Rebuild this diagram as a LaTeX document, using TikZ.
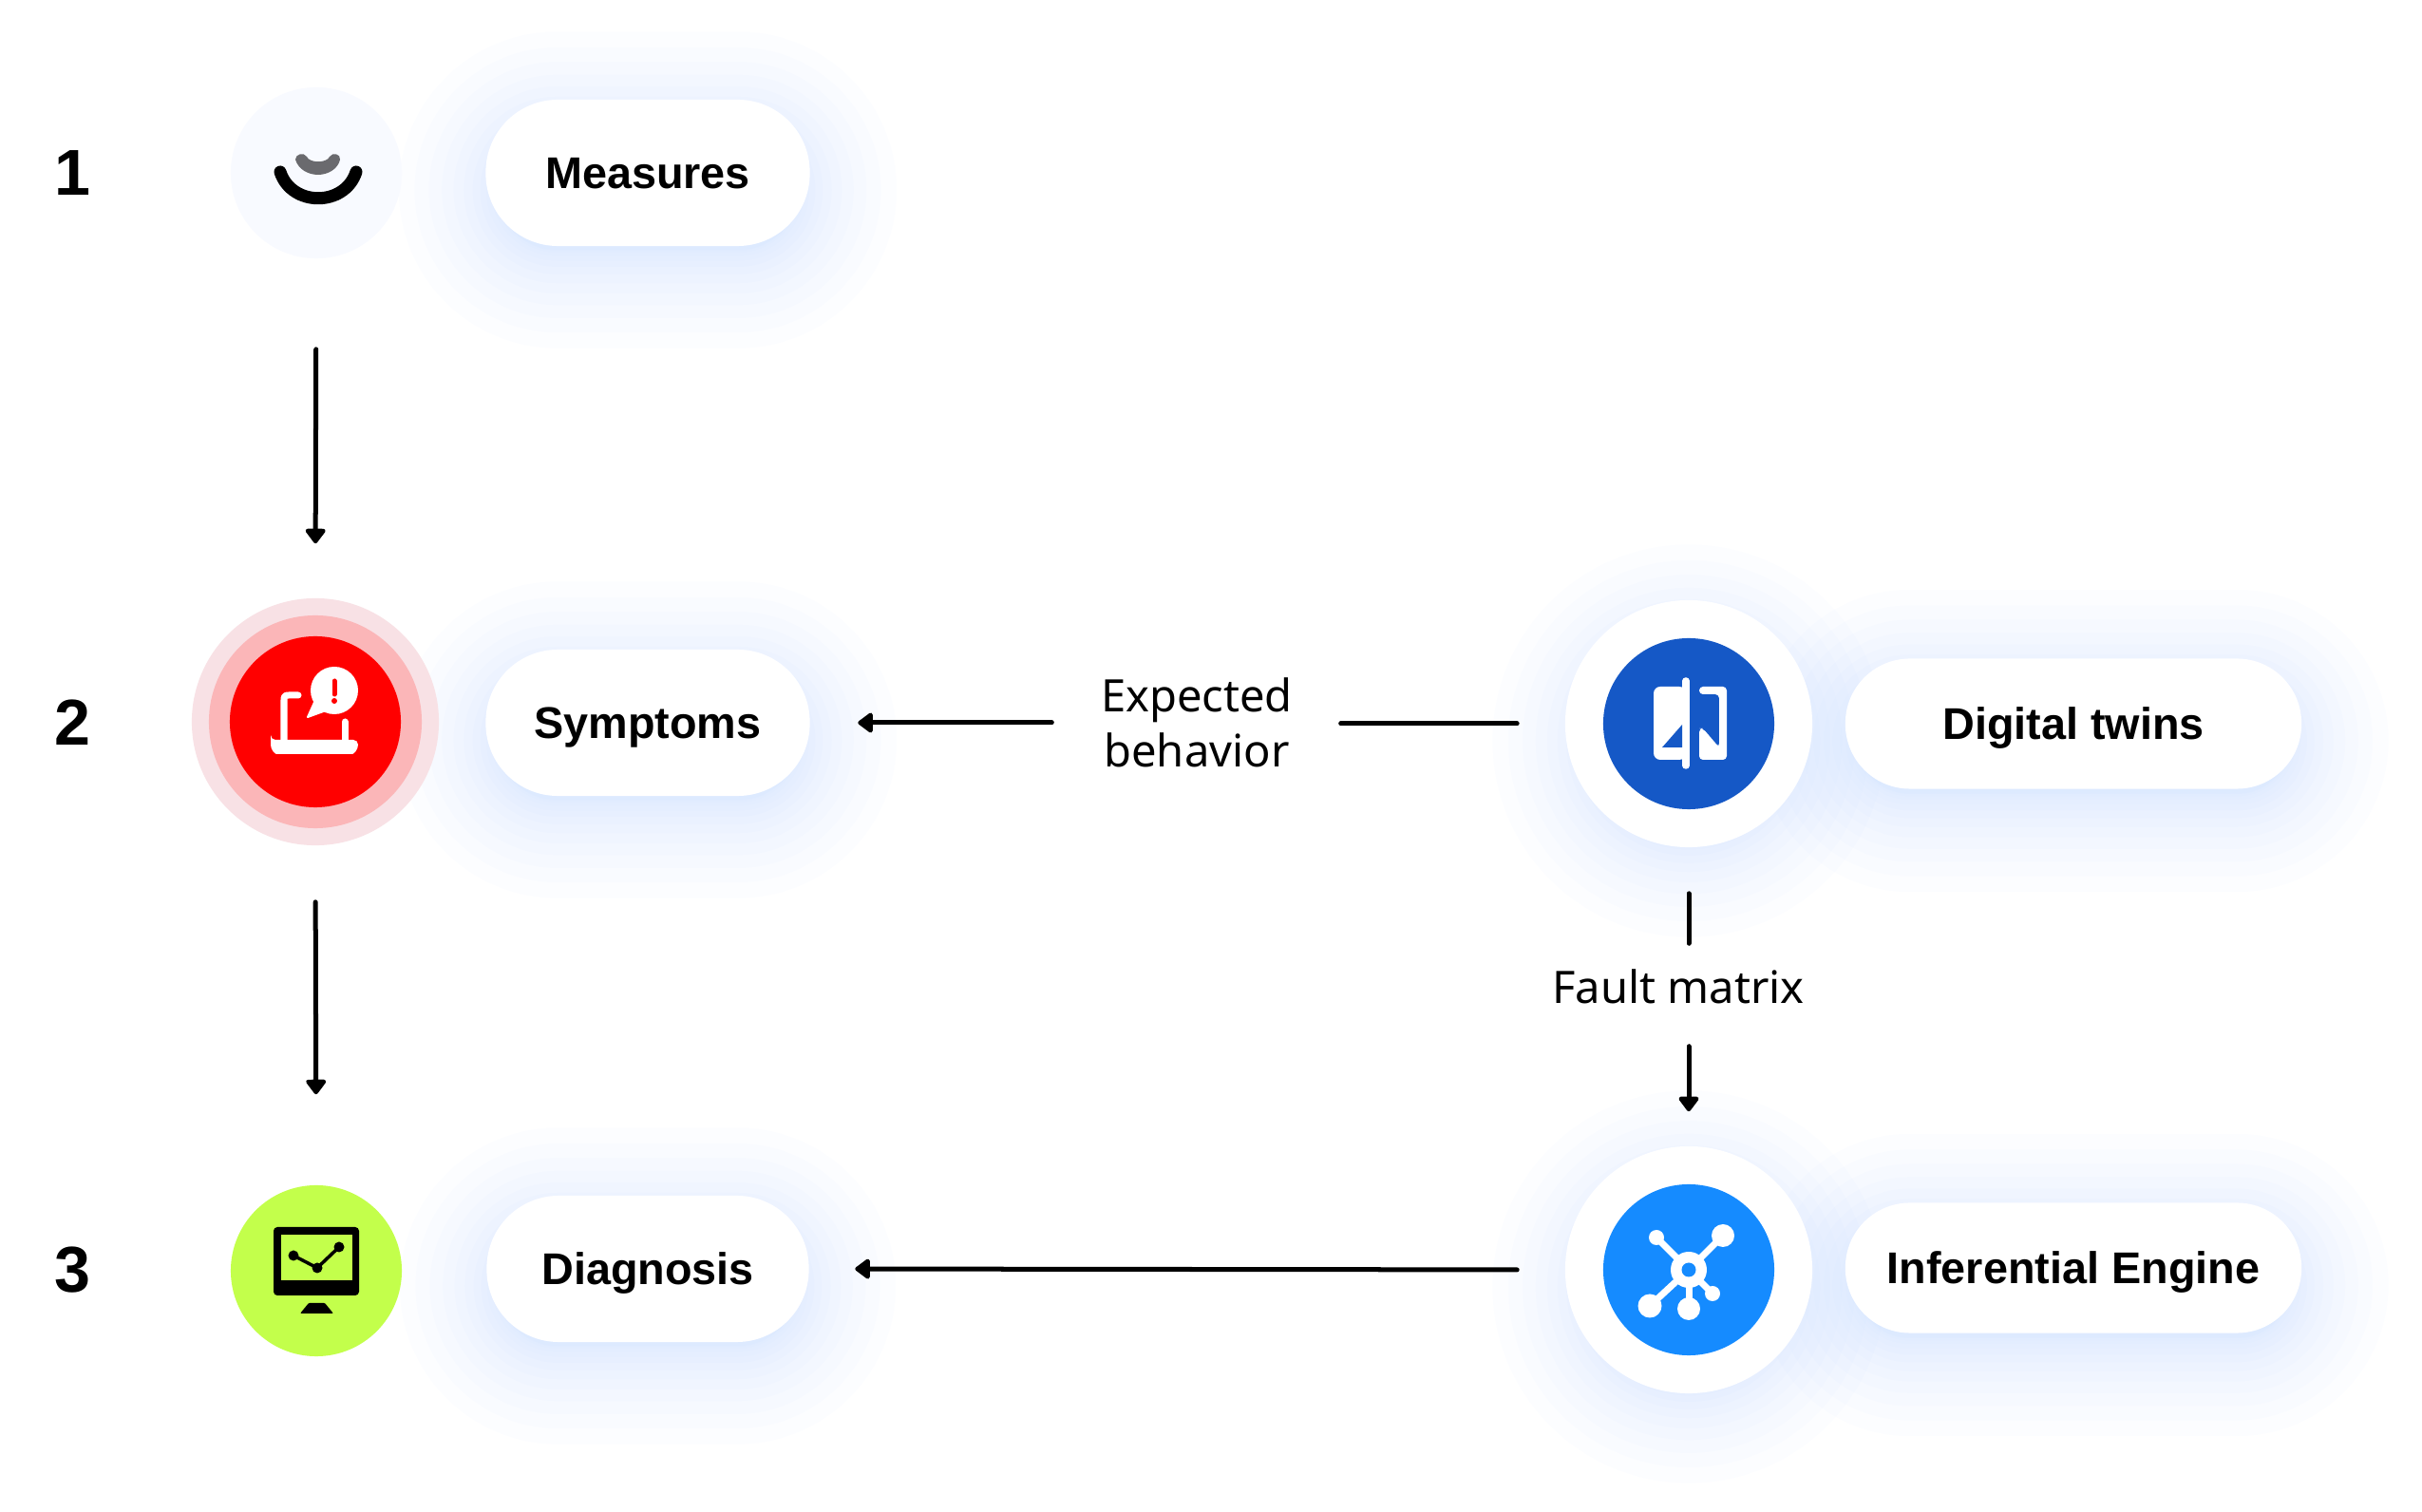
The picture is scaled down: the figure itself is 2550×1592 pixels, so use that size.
\documentclass[tikz,border=0pt]{standalone}
\usepackage{fontspec}
\setmainfont{Liberation Sans}
\newfontfamily\notefont{Noto Sans}
\usetikzlibrary{arrows.meta}
\definecolor{glowtint}{HTML}{3F9BFF}
\definecolor{ink}{HTML}{000000}
\definecolor{paleface}{HTML}{F8FAFF}
\definecolor{alarmouter}{HTML}{F8E1E5}
\definecolor{alarmmid}{HTML}{FBB6B8}
\definecolor{alarmred}{HTML}{FF0000}
\definecolor{twinblue}{HTML}{1558C6}
\definecolor{engineblue}{HTML}{158BFF}
\definecolor{limegreen}{HTML}{C3FF4B}
\definecolor{smilegrey}{HTML}{6A6A6E}
% Soft halo below pills and discs: centre x, centre y, width, height.
% The spread grows quadratically so the edge fades out gently.
\newcommand{\softglow}[4]{%
  \foreach \k in {12,11,...,0}{%
    \pgfmathsetmacro{\e}{\k*\k*0.72-12}%
    \pgfmathsetmacro{\gr}{max(#4/2+\e,2)*0.2845}%
    \fill[glowtint,opacity=0.0105,rounded corners=\gr pt]
      ({#1-#3/2-\e},{#2-#4/2-\e}) rectangle ({#1+#3/2+\e},{#2+#4/2+\e});
  }%
}
\tikzset{
  pill/.style={fill=white,inner sep=0pt,minimum width=#1,minimum height=1.54cm,rounded corners=0.76cm,
    font=\fontsize{13.3pt}{15pt}\selectfont\bfseries,text=ink,text height=0.33cm,text depth=0pt},
  pilllow/.style={pill=#1,minimum height=1.37cm,rounded corners=0.68cm},
  disc/.style={circle,inner sep=0pt,minimum size=1.8cm},
  halo/.style={circle,fill=white,inner sep=0pt,minimum size=2.6cm},
  stepnum/.style={font=\fontsize{19.4pt}{22pt}\selectfont\bfseries,text=ink,inner sep=0pt},
  edgelabel/.style={font=\fontsize{13.4pt}{16.5pt}\notefont\selectfont,text=ink,inner sep=0pt,align=center},
  flow/.style={line width=0.05cm,line cap=round,draw=ink,-{Triangle[length=0.17cm,width=0.24cm,round]}},
  plainflow/.style={line width=0.05cm,line cap=round,draw=ink},
  iconstroke/.style={line cap=round,line join=round}
}
\begin{document}
\begin{tikzpicture}[x=0.01cm,y=-0.01cm]
\useasboundingbox (0,0) rectangle (2550,1592);
\fill[white] (0,0) rectangle (2550,1592);

% Halos
\softglow{682}{200}{341}{150}
\softglow{682}{779}{341}{150}
\softglow{682}{1354}{339}{150}
\softglow{2183}{780}{480}{135}
\softglow{2183}{1353}{480}{135}
\softglow{1778}{780}{230}{230}
\softglow{1778}{1355}{230}{230}

% Step numbers
\node[stepnum] (n1) at (76,182) {1};
\node[stepnum] (n2) at (76,761) {2};
\node[stepnum] (n3) at (76,1337) {3};

% Left column discs
\node[disc,fill=paleface] (measureicon) at (333,182) {};
\node[circle,inner sep=0pt,minimum size=2.6cm,fill=alarmouter] (symptomring) at (332,760) {};
\node[circle,inner sep=0pt,minimum size=2.24cm,fill=alarmmid] (symptommid) at (332,760) {};
\node[disc,fill=alarmred] (symptomicon) at (332,760) {};
\node[disc,fill=limegreen] (diagicon) at (333,1338) {};

% Right column discs
\node[halo] (twinring) at (1778,762) {};
\node[disc,fill=twinblue] (twinicon) at (1778,762) {};
\node[halo] (enginering) at (1778,1337) {};
\node[disc,fill=engineblue] (engineicon) at (1778,1337) {};

% Pills
\node[pill=3.41cm] (measures) at (682,182) {Measures};
\node[pill=3.41cm] (symptoms) at (682,761) {Symptoms};
\node[pill=3.39cm] (diagnosis) at (682,1336) {Diagnosis};
\node[pilllow=4.80cm] (twins) at (2183,762) {Digital twins};
\node[pilllow=4.80cm] (engine) at (2183,1335) {Inferential Engine};

% Edge labels
\node[edgelabel,minimum width=2cm] (expected) at (1260,761) {Expected\\behavior};
\node[edgelabel,minimum height=0.9cm] (fault) at (1767,1039) {Fault matrix};

% Connectors
\draw[flow,shorten <=0.95cm,shorten >=0.57cm] (measureicon.south) -- (symptomring.north);
\draw[flow,shorten <=0.59cm,shorten >=0.95cm] (symptomring.south) -- (diagicon.north);
\draw[plainflow,shorten <=0.50cm,shorten >=0.50cm] (twinring.west) -- (twinring.west -| expected.east);
\draw[flow,shorten <=0.51cm,shorten >=0.50cm] (expected.west |- symptoms.east) -- (symptoms.east);
\draw[plainflow,shorten <=0.48cm] (twinring.south) -- (twinring.south |- fault.north);
\draw[flow,shorten <=0.17cm,shorten >=0.36cm] (twinring.south |- fault.south) -- (enginering.north);
\draw[flow,shorten <=0.50cm,shorten >=0.48cm] (enginering.west) -- (diagnosis.east);

% Smile glyph
\fill[smilegrey] (311,168) .. controls (311,162) and (320,160) .. (323,165)
  .. controls (326,172) and (344,172) .. (347,165)
  .. controls (350,160) and (359,162) .. (358,168)
  .. controls (356,178) and (345,184) .. (335,184)
  .. controls (324,184) and (314,178) .. (311,168) -- cycle;
\draw[ink,line width=0.13cm,line cap=round] (295,181) .. controls (307,218) and (363,218) .. (375,181);

% Laptop with alert bubble
\begin{scope}[white,iconstroke]
  \draw[line width=0.07cm] (299,782) -- (299,737) .. controls (299,733) and (300,732) .. (304,732) -- (314,732);
  \draw[line width=0.07cm] (363,760) -- (363,782);
  \fill[rounded corners=0.05cm] (285,779) -- (377,779) .. controls (377,790) and (372,794) .. (366,794) -- (296,794) .. controls (290,794) and (285,790) .. (285,779) -- cycle;
  \fill (352,727) circle[radius=25];
  \fill[line join=round,draw=white,line width=0.02cm] (333,735) -- (324,755) -- (346,747) -- cycle;
  \draw[alarmred,line width=0.05cm] (352,717) -- (352,731);
  \fill[alarmred] (352,738) circle[radius=3];
\end{scope}

% Mirrored panels
\begin{scope}[white,iconstroke]
  \draw[line width=0.075cm] (1775,717) -- (1775,806);
  \fill[rounded corners=0.07cm] (1775,723) -- (1741,723) -- (1741,800) -- (1775,800) -- cycle;
  \fill[twinblue] (1750,787) -- (1771,763) -- (1771,787) -- cycle;
  \fill[rounded corners=0.04cm] (1789,723) -- (1818,723) -- (1818,800) -- (1789,800) -- (1789,767) -- (1793,767) -- (1810,787) -- (1810,731) -- (1789,731) -- cycle;
\end{scope}

% Network hub
\begin{scope}[white,iconstroke]
  \draw[line width=0.07cm] (1778,1337) -- (1814,1301);
  \draw[line width=0.07cm] (1778,1337) -- (1744,1303);
  \draw[line width=0.07cm] (1778,1337) -- (1737,1375);
  \draw[line width=0.07cm] (1778,1337) -- (1778,1378);
  \draw[line width=0.07cm] (1778,1337) -- (1803,1362);
  \fill (1814,1301) circle[radius=12];
  \fill (1744,1303) circle[radius=8];
  \fill (1737,1375) circle[radius=12.5];
  \fill (1778,1378) circle[radius=12];
  \fill (1803,1362) circle[radius=8];
  \fill (1778,1337) circle[radius=19];
  \fill[engineblue] (1778,1337) circle[radius=7.5];
\end{scope}

% Monitor with chart
\fill[ink,rounded corners=0.04cm] (288,1292) rectangle (378,1364);
\fill[limegreen] (296,1300) rectangle (371,1348);
\draw[ink,line width=0.035cm,line join=round] (309,1322) -- (334,1335) -- (357,1313);
\fill[ink] (309,1322) circle[radius=5.5];
\fill[ink] (334,1335) circle[radius=5.5];
\fill[ink] (357,1313) circle[radius=5.5];
\fill[ink,rounded corners=0.01cm] (325,1372) -- (342,1372) -- (351,1383) -- (316,1383) -- cycle;
\end{tikzpicture}
\end{document}
